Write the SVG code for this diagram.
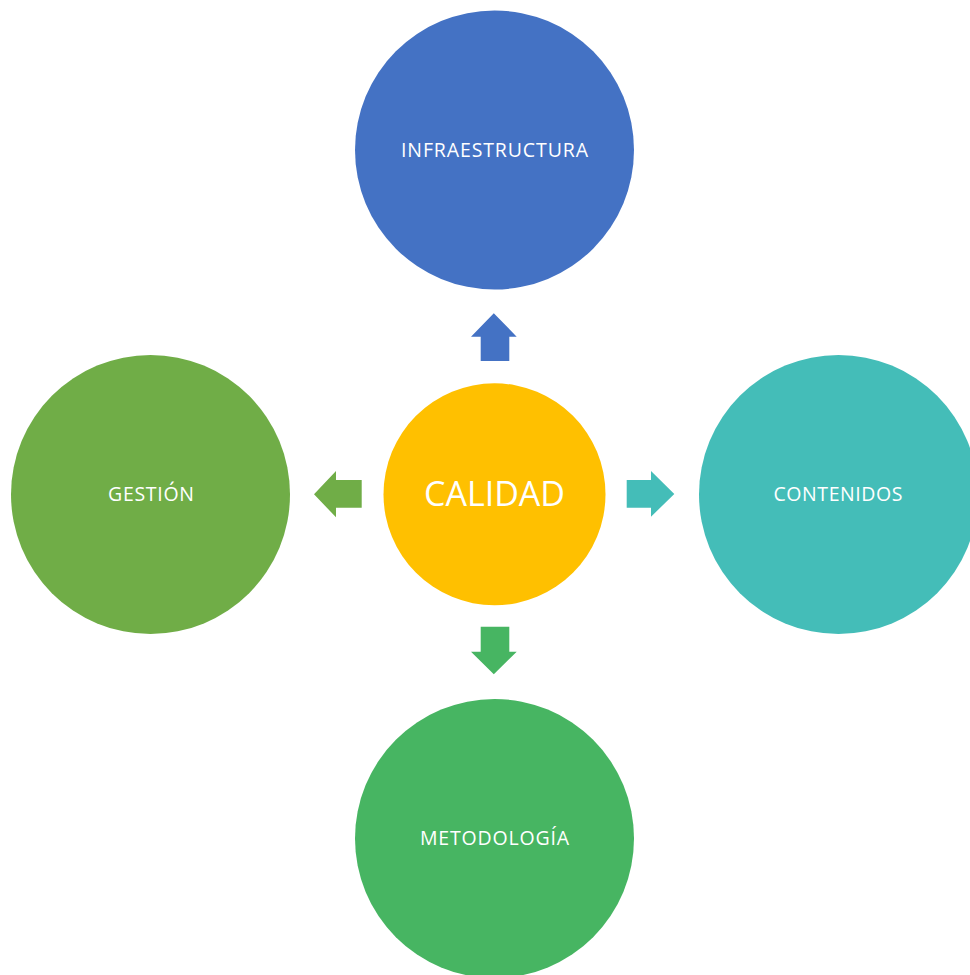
<svg xmlns="http://www.w3.org/2000/svg" width="970" height="975" viewBox="0 0 970 975">
<style>
.lbl{font-family:"Open Sans","Noto Sans",sans-serif;fill:#fff;text-anchor:middle}
.s{font-size:19.5px}
.b{font-size:34px}
</style>
<rect width="970" height="975" fill="#fff"/>
<g id="infraestructura"><circle cx="494.5" cy="150" r="139.5" fill="#4472C4"/><text class="lbl s" x="494.5" y="156.7" textLength="187" lengthAdjust="spacing">INFRAESTRUCTURA</text></g>
<g id="gestion"><circle cx="150.5" cy="494.5" r="139.5" fill="#70AD47"/><text class="lbl s" x="151" y="501.2" textLength="86" lengthAdjust="spacing">GESTIÓN</text></g>
<g id="contenidos"><circle cx="838.5" cy="494.5" r="139.5" fill="#44BDB8"/><text class="lbl s" x="838" y="501.2" textLength="129" lengthAdjust="spacing">CONTENIDOS</text></g>
<g id="metodologia"><circle cx="494.5" cy="838.5" r="139.5" fill="#47B562"/><text class="lbl s" x="494.5" y="845.2" textLength="149" lengthAdjust="spacing">METODOLOGÍA</text></g>
<g id="calidad"><circle cx="494.5" cy="494.3" r="111" fill="#FFC000"/><text class="lbl b" x="494.5" y="506.2">CALIDAD</text></g>
<g id="connectors">
<polygon fill="#4472C4" points="493.8,313.3 516.7,336.7 509.3,336.7 509.3,361 480.7,361 480.7,336.7 471,336.7"/>
<polygon fill="#70AD47" points="314,494.3 336,471 336,480 361.7,480 361.7,507.7 336,507.7 336,517.3"/>
<polygon fill="#44BDB8" points="674.3,494 651,471 651,480 626.7,480 626.7,507.7 651,507.7 651,516.7"/>
<polygon fill="#47B562" points="493.8,674.3 516.7,651.7 509.3,651.7 509.3,626.7 480.7,626.7 480.7,651.7 471,651.7"/>
</g>
</svg>
